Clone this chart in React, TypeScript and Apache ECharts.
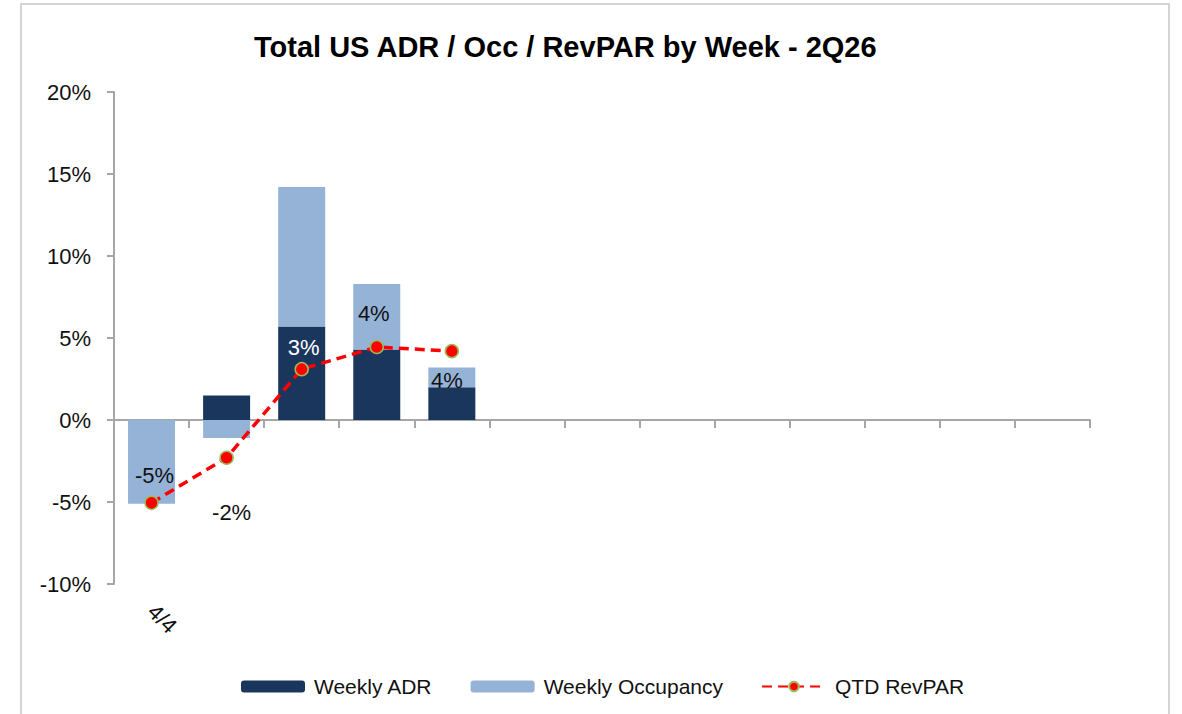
import React, { useEffect, useRef } from "react";
import * as echarts from "echarts";

const categories = ["4/4", "4/11", "4/18", "4/25", "5/2", "5/9", "5/16", "5/23", "5/30", "6/6", "6/13", "6/20", "6/27"];
const weeklyADR = [0, 1.5, 5.7, 4.3, 2.0, null, null, null, null, null, null, null, null];
const weeklyOcc = [-5.1, -1.1, 8.5, 4.0, 1.2, null, null, null, null, null, null, null, null];
const qtdRevPAR = [-5.05, -2.3, 3.1, 4.45, 4.2];
const yTicks = { min: -10, max: 20, interval: 5 };

const FONT = "'Liberation Sans Narrow', 'Arial Narrow', 'Liberation Sans', Arial, sans-serif";
const TXT = "#111111";
const FS = 22;

const labelCfg: any[] = [
  { position: "top", distance: 9, offset: [3, 0], color: TXT },
  { position: "bottom", distance: 37, offset: [5, 0], color: TXT },
  { position: "top", distance: 3, offset: [2, 0], color: "#ffffff" },
  { position: "top", distance: 15, offset: [-3, 0], color: TXT },
  { position: "bottom", distance: 11, offset: [-5, 0], color: TXT },
];

export default function App() {
  const ref = useRef<HTMLDivElement>(null);
  useEffect(() => {
    document.body.style.margin = "0";
    const chart = echarts.init(ref.current!, null, { renderer: "svg" });
    chart.setOption({
      animation: false,
      backgroundColor: "#ffffff",
      textStyle: { fontFamily: FONT },
      title: {
        text: "Total US ADR / Occ / RevPAR by Week - 2Q26",
        left: 249,
        top: 27,
        textStyle: { fontFamily: FONT, fontSize: 29, fontWeight: "bold", color: "#000000" },
      },
      graphic: [
        {
          type: "rect",
          shape: { x: 21, y: 4, width: 1148, height: 730 },
          style: { fill: "none", stroke: "#d4d4d4", lineWidth: 2 },
          silent: true,
        },
      ],
      grid: { left: 114, right: 92, top: 92, bottom: 130, containLabel: false },
      legend: {
        left: 236,
        top: 671,
        itemWidth: 64,
        itemHeight: 12,
        itemGap: 38,
        textStyle: { fontFamily: FONT, fontSize: 21, color: TXT, padding: [0, 0, 0, 4] },
        data: ["Weekly ADR", "Weekly Occupancy", "QTD RevPAR"],
      },
      xAxis: [
        {
          type: "category",
          data: categories,
          axisLine: { onZero: true, lineStyle: { color: "#a6a6a6", width: 2 } },
          axisTick: { show: true, length: 8, lineStyle: { color: "#a6a6a6", width: 2 } },
          axisLabel: { show: false },
        },
        {
          type: "category",
          data: categories,
          position: "bottom",
          axisLine: { show: false, onZero: false },
          axisTick: { show: false },
          axisLabel: {
            show: true,
            interval: (i: number) => i === 0,
            rotate: -45,
            margin: 24,
            fontFamily: FONT,
            fontSize: FS,
            color: TXT,
          },
        },
      ],
      yAxis: {
        type: "value",
        min: yTicks.min,
        max: yTicks.max,
        interval: yTicks.interval,
        axisLine: { show: true, lineStyle: { color: "#a6a6a6", width: 2 } },
        axisTick: { show: true, length: 7, lineStyle: { color: "#a6a6a6", width: 2 } },
        splitLine: { show: false },
        axisLabel: { formatter: "{value}%", fontFamily: FONT, fontSize: FS, color: TXT, margin: 23 },
      },
      series: [
        {
          name: "Weekly ADR",
          type: "bar",
          stack: "s",
          data: weeklyADR,
          barWidth: 47,
          itemStyle: { color: "#1b365d" },
        },
        {
          name: "Weekly Occupancy",
          type: "bar",
          stack: "s",
          data: weeklyOcc,
          barWidth: 47,
          itemStyle: { color: "#95b3d7" },
        },
        {
          name: "QTD RevPAR",
          type: "line",
          data: qtdRevPAR.map((v, i) => ({
            value: v,
            label: {
              show: true,
              formatter: (p: any) => Math.round(p.value) + "%",
              fontFamily: FONT,
              fontSize: FS,
              ...labelCfg[i],
            },
          })),
          symbol: "circle",
          symbolSize: 13,
          itemStyle: { color: "#ff0000", borderColor: "#9bbb59", borderWidth: 1.5 },
          lineStyle: { color: "#ff0000", width: 3.5, type: [10, 6] },
          z: 5,
        },
      ],
    });
    return () => chart.dispose();
  }, []);
  return <div ref={ref} style={{ position: "absolute", left: 0, top: 0, width: 1182, height: 714 }} />;
}
